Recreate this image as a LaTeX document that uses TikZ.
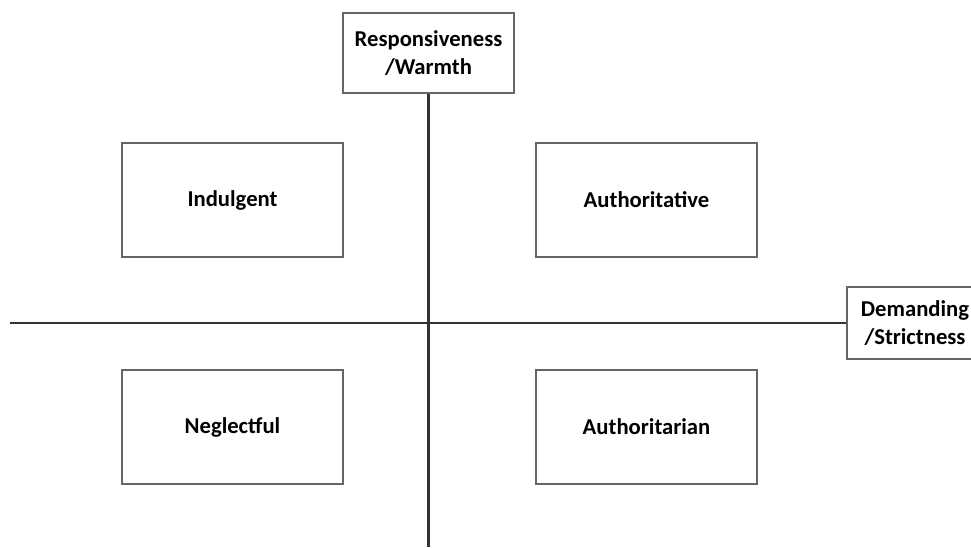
\documentclass[tikz,border=0pt]{standalone}
\usepackage{fontspec}
\setmainfont{Carlito}
\usepackage{tikz}

\begin{document}
\begin{tikzpicture}[x=0.75pt, y=-0.75pt,
    stylebox/.style={draw=black!60, line width=1.4pt, fill=white,
        minimum width=165.75pt, minimum height=85.5pt,
        font=\fontsize{17}{20}\selectfont\bfseries},
    axislabel/.style={draw=black!60, line width=1.4pt, fill=white,
        align=center, inner sep=0pt,
        font=\fontsize{17}{21}\selectfont\bfseries},
    axis/.style={draw=black!80, line width=2.2pt}]
    \clip (0,0) rectangle (971,547);
    \fill[white] (0,0) rectangle (971,547);

    % Draw the axis labels
    \node[axislabel, minimum width=128.25pt, minimum height=60pt] (warmth) at (428.5,53) {Responsiveness\\/Warmth};
    \node[axislabel, minimum width=102pt, minimum height=54pt] (strict) at (915,323) {Demanding\\/Strictness};
    \coordinate (bottom) at (428.5,547);
    \coordinate (left) at (10,323);

    % Draw the axes
    \draw[axis] (warmth.south) -- (bottom);
    \draw[axis] (left) -- (strict.west);

    % Draw the four styles
    \node[stylebox] (indulgent) at (232.5,200) {Indulgent};
    \node[stylebox] (authoritative) at (646.5,200) {Authoritative};
    \node[stylebox] (neglectful) at (232.5,427) {Neglectful};
    \node[stylebox] (authoritarian) at (646.5,427) {Authoritarian};
\end{tikzpicture}
\end{document}
